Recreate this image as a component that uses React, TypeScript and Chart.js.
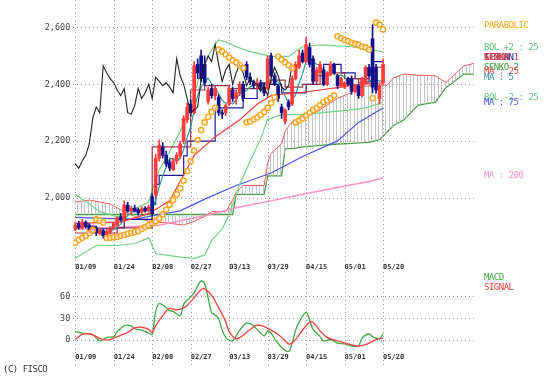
import { useEffect, useRef } from "react";
import { Chart, registerables } from "chart.js";
Chart.register(...registerables);

const dateLabels = ["01/09", "01/24", "02/08", "02/27", "03/13", "03/29", "04/15", "05/01", "05/20"];
const labelIdx = [0, 11, 22, 33, 44, 55, 66, 77, 88];
const mainTicks = [2000, 2200, 2400, 2600];
const macdTicks = [0, 30, 60];
const CHIKOU_SHIFT = 26;

const opens = [1890,1910,1895,1915,1905,1885,1895,1875,1885,1868,1880,1895,1905,1935,1925,1975,1955,1965,1958,1950,1965,1955,2005,2010,2140,2180,2150,2125,2100,2130,2150,2200,2275,2330,2300,2470,2500,2470,2340,2385,2360,2355,2300,2300,2330,2380,2350,2370,2400,2470,2425,2410,2395,2405,2390,2385,2500,2430,2395,2320,2270,2337,2330,2420,2460,2510,2480,2530,2490,2410,2440,2450,2400,2436,2470,2430,2395,2390,2420,2420,2375,2395,2360,2406,2460,2560,2460,2350,2405];
const highs = [1915,1918,1925,1920,1910,1905,1900,1895,1890,1890,1900,1915,1935,1945,1990,1985,1972,1975,1965,1970,1970,1975,2015,2155,2205,2195,2165,2135,2140,2160,2200,2290,2335,2345,2480,2490,2520,2500,2390,2400,2395,2365,2310,2330,2395,2390,2380,2410,2410,2480,2440,2415,2420,2415,2405,2500,2510,2440,2400,2330,2315,2345,2430,2480,2520,2520,2565,2545,2500,2460,2480,2460,2445,2480,2475,2435,2425,2410,2425,2430,2400,2400,2425,2465,2470,2610,2470,2400,2490];
const lows = [1885,1890,1890,1895,1880,1878,1868,1870,1858,1862,1875,1890,1900,1918,1920,1950,1945,1950,1940,1945,1950,1950,1940,2005,2130,2140,2110,2095,2095,2120,2140,2190,2265,2290,2295,2420,2410,2395,2330,2350,2345,2290,2280,2290,2325,2340,2330,2360,2340,2415,2400,2385,2385,2380,2360,2380,2425,2395,2340,2280,2260,2310,2325,2415,2455,2475,2475,2460,2400,2405,2435,2395,2395,2430,2435,2385,2390,2385,2395,2365,2370,2350,2355,2400,2425,2370,2370,2330,2400];
const closes = [1905,1895,1915,1900,1890,1895,1878,1888,1868,1882,1895,1910,1930,1922,1975,1955,1965,1955,1948,1962,1955,1968,1945,2140,2185,2150,2120,2105,2130,2150,2190,2280,2320,2300,2465,2440,2420,2405,2380,2360,2385,2300,2295,2325,2385,2350,2370,2400,2350,2425,2410,2395,2405,2390,2370,2490,2430,2400,2350,2300,2310,2320,2420,2470,2500,2480,2540,2470,2410,2450,2470,2400,2440,2470,2440,2395,2420,2405,2400,2375,2395,2360,2420,2460,2430,2390,2380,2395,2470];

const ma5 = [1900,1900,1905,1904,1901,1899,1896,1890,1884,1882,1882,1889,1897,1908,1926,1938,1949,1954,1960,1957,1957,1958,1956,1994,2039,2078,2108,2140,2138,2131,2139,2171,2214,2248,2311,2361,2389,2406,2422,2401,2390,2366,2344,2333,2338,2331,2345,2366,2371,2379,2391,2396,2397,2405,2394,2410,2417,2416,2408,2394,2358,2336,2340,2364,2404,2438,2482,2492,2480,2470,2468,2440,2434,2446,2444,2429,2433,2426,2412,2399,2399,2387,2390,2402,2413,2412,2416,2411,2413];
const ma25: [number, number][] = [[0,1911],[13,1915],[21,1945],[27,1990],[34,2150],[40,2215],[47,2275],[52,2330],[56,2360],[59,2365],[64,2370],[70,2380],[76,2390],[81,2400],[88,2405]];
const ma75: [number, number][] = [[0,1932],[17,1925],[21,1935],[30,1955],[37,1996],[46,2044],[56,2088],[65,2146],[75,2201],[81,2266],[88,2317]];
const ma200: [number, number][] = [[0,1891],[13,1898],[24,1904],[37,1938],[46,1966],[56,1990],[65,2013],[75,2037],[84,2058],[88,2071]];
const bolUp: [number, number][] = [[0,2013],[4,1979],[7,1952],[12,1935],[17,1962],[21,1986],[22,2027],[24,2099],[27,2164],[30,2235],[33,2327],[36,2447],[39,2522],[41,2556],[43,2549],[46,2532],[50,2515],[56,2498],[61,2498],[65,2532],[70,2539],[79,2532],[84,2522],[88,2515]];
const bolLow: [number, number][] = [[0,1788],[6,1833],[12,1833],[17,1840],[21,1860],[23,1805],[26,1799],[30,1792],[34,1788],[37,1799],[39,1850],[42,1891],[44,1942],[47,2048],[50,2129],[53,2208],[55,2276],[59,2293],[65,2293],[73,2303],[79,2310],[83,2317],[88,2337]];
const tenkan: [number, number][] = [[0,1900],[6,1892],[12,1895],[14,1925],[22,1978],[23,2048],[24,2080],[31,2148],[32,2200],[40,2317],[48,2350],[52,2400],[59,2370],[66,2400],[69,2430],[71,2470],[76,2440],[80,2420],[84,2410],[85,2480],[88,2480]];
const kijun: [number, number][] = [[0,1877],[12,1895],[22,2180],[33,2380],[37,2395],[44,2385],[53,2405],[56,2415],[60,2390],[65,2400],[70,2430],[73,2440],[77,2420],[81,2405],[84,2445],[86,2460],[88,2460]];
const cloudIdx = [0,4,10,14,17,21,27,31,34,37,39,43,45,46,48,54,55,56,59,60,62,65,69,75,79,81,84,87,89,91,94,98,103,106,108,111,114];
const senkou1 = [1986,1993,1979,1952,1935,1918,1911,1905,1918,1935,1952,1952,1993,2020,2044,2044,2123,2157,2191,2235,2269,2283,2303,2351,2371,2389,2395,2395,2395,2423,2436,2432,2430,2406,2430,2464,2474];
const senkou2 = [1942,1942,1942,1942,1942,1942,1942,1942,1942,1942,1942,1942,1942,2013,2013,2013,2078,2078,2078,2174,2174,2180,2184,2190,2192,2194,2196,2205,2230,2255,2275,2327,2337,2389,2406,2436,2436];
const sar = [1843,1853,1860,1867,1877,1887,1925,1921,1914,1860,1860,1862,1863,1867,1870,1874,1877,1880,1884,1891,1898,1904,1911,1918,1928,1942,1959,1976,1993,2013,2034,2061,2095,2129,2167,2204,2239,2266,2286,2303,2317,2522,2515,2505,2494,2484,2477,2467,2457,2266,2269,2276,2283,2293,2303,2317,2334,2354,2498,2487,2477,2467,2457,2266,2273,2280,2290,2300,2310,2317,2327,2337,2344,2351,2361,2569,2562,2556,2552,2546,2542,2539,2532,2529,2522,2351,2617,2610,2593];
const macd: [number, number][] = [[0,12],[1,11],[3,9],[5,8],[7,-1],[8,1],[9,4],[11,5],[12,12],[14,20],[16,20],[17,16],[19,14],[21,10],[22,8],[23,40],[24,51],[25,49],[27,41],[28,40],[30,34],[31,50],[32,55],[34,66],[35,75],[36,82],[37,78],[38,58],[39,38],[40,35],[41,30],[42,14],[43,4],[44,0],[45,-1],[47,14],[49,24],[50,23],[51,20],[52,15],[54,6],[55,13],[56,10],[57,2],[59,-10],[61,-16],[62,-4],[63,14],[64,25],[66,39],[67,28],[68,15],[70,5],[71,-1],[73,1],[75,-4],[77,-5],[79,-8],[81,-8],[82,3],[84,9],[85,5],[87,2],[88,9]];
const signal: [number, number][] = [[0,1],[2,8],[4,9],[6,5],[8,1],[10,1],[12,5],[15,11],[17,17],[19,18],[21,15],[22,11],[23,20],[25,34],[27,44],[29,42],[31,45],[32,48],[34,59],[36,70],[37,71],[39,62],[41,45],[43,26],[44,12],[46,2],[48,7],[50,15],[52,21],[54,19],[56,14],[58,8],[59,4],[61,-5],[62,-4],[63,1],[65,14],[67,25],[68,25],[70,13],[72,4],[75,-1],[78,-5],[81,-8],[84,-4],[86,1],[88,3]];

const X_MIN = -0.571;
const X_MAX = 114.29;
const FONT = "DejaVu Sans Mono";

const pts = (arr: [number, number][]) => arr.map(([x, y]) => ({ x, y }));

const vGrid = {
  id: "vgrid",
  beforeDatasetsDraw(chart: any) {
    const { ctx } = chart;
    const xs = chart.scales.x;
    ctx.save();
    ctx.strokeStyle = "#9a9a9a";
    ctx.lineWidth = 1;
    ctx.setLineDash([1, 3]);
    for (const v of labelIdx) {
      const px = Math.round(xs.getPixelForValue(v)) + 0.5;
      ctx.beginPath();
      ctx.moveTo(px, 0);
      ctx.lineTo(px, chart.height);
      ctx.stroke();
    }
    ctx.restore();
  },
};

const xAxis = () => ({
  type: "linear",
  min: X_MIN,
  max: X_MAX,
  offset: false,
  grid: { display: false, drawTicks: false },
  border: { display: false },
  afterBuildTicks: (s: any) => {
    s.ticks = labelIdx.map((v) => ({ value: v }));
  },
  afterFit: (s: any) => {
    s.height = 14;
  },
  ticks: {
    autoSkip: false,
    maxRotation: 0,
    minRotation: 0,
    align: "start",
    padding: 1,
    color: "#333",
    font: { family: FONT, size: 7, weight: "bold" },
    callback: (v: number) => {
      const k = labelIdx.indexOf(v);
      return k >= 0 ? dateLabels[k] : "";
    },
  },
});

const yAxis = (min: number, max: number, ticks: number[], fmt: (v: number) => string) => ({
  min,
  max,
  grid: { color: "#9a9a9a", drawTicks: false, lineWidth: 1 },
  border: { display: false, dash: [1, 3] },
  afterBuildTicks: (s: any) => {
    s.ticks = ticks.map((v) => ({ value: v }));
  },
  afterFit: (s: any) => {
    s.width = 73.25;
  },
  ticks: { padding: 3, color: "#444", font: { family: FONT, size: 8.5 }, callback: (v: number) => fmt(v) },
});

const line = (data: any[], color: string, width: number, order: number, extra: any = {}) => ({
  type: "line",
  data,
  borderColor: color,
  borderWidth: width,
  pointRadius: 0,
  fill: false,
  tension: 0,
  order,
  ...extra,
});

const RED = "#ff3b3b";
const NAVY = "#10108a";

export default function App() {
  const mainRef = useRef<HTMLCanvasElement>(null);
  const macdRef = useRef<HTMLCanvasElement>(null);

  useEffect(() => {
    const pc = document.createElement("canvas");
    pc.width = 7;
    pc.height = 2;
    const pctx = pc.getContext("2d")!;
    pctx.fillStyle = "#c4c4c4";
    pctx.fillRect(0, 0, 1, 2);
    pctx.fillRect(4, 0, 1, 2);
    const hatch = mainRef.current!.getContext("2d")!.createPattern(pc, "repeat");

    const candleColors = closes.map((c, i) => (c >= opens[i] ? RED : NAVY));

    const main = new Chart(mainRef.current!, {
      type: "bar",
      data: {
        datasets: [
          line(cloudIdx.map((x, i) => ({ x, y: senkou1[i] })), "#ff5a5a", 1, 20, { fill: "+1", backgroundColor: hatch }),
          line(cloudIdx.map((x, i) => ({ x, y: senkou2[i] })), "#3e9e3e", 1.3, 20),
          line(pts(ma200), "#ff8fc8", 1.5, 15),
          line(pts(ma75), "#4b55ee", 1.2, 15),
          line(pts(bolUp), "#6fd487", 1.2, 14),
          line(pts(bolLow), "#6fd487", 1.2, 14),
          line(pts(kijun), "#993344", 1.2, 12, { stepped: true }),
          line(pts(tenkan), "#1a1a99", 1.2, 12, { stepped: true }),
          line(pts(ma25), "#ff3b3b", 1.2, 11),
          line(ma5.map((y, x) => ({ x, y })), "#2f9a9a", 1.2, 11),
          {
            type: "bar",
            data: highs.map((h, i) => ({ x: i, y: [lows[i], h] })),
            backgroundColor: candleColors,
            barThickness: 1,
            grouped: false,
            borderWidth: 0,
            order: 8,
          },
          {
            type: "bar",
            data: opens.map((o, i) => ({ x: i, y: [o, closes[i]] })),
            backgroundColor: candleColors,
            barThickness: 3,
            grouped: false,
            borderWidth: 0,
            minBarLength: 1,
            order: 7,
          },
          line(closes.slice(CHIKOU_SHIFT).map((y, k) => ({ x: k, y })), "#222", 1.1, 5),
          {
            type: "line",
            data: sar.map((y, x) => ({ x, y })),
            showLine: false,
            pointRadius: 2.6,
            pointStyle: "circle",
            pointBorderColor: "#ffa31a",
            pointBackgroundColor: "rgba(255,255,255,0.6)",
            pointBorderWidth: 1.4,
            order: 1,
          },
        ] as any,
      },
      options: {
        responsive: false,
        animation: false,
        devicePixelRatio: 1,
        layout: { padding: { left: 0, right: 77, top: 0, bottom: 0 } },
        plugins: { legend: { display: false }, tooltip: { enabled: false } },
        scales: {
          x: xAxis() as any,
          y: yAxis(1775, 2668, mainTicks, (v) => v.toLocaleString("en-US")) as any,
        },
      },
      plugins: [vGrid],
    });

    const macdChart = new Chart(macdRef.current!, {
      type: "line",
      data: {
        datasets: [
          line(pts(macd), "#3fa83f", 1.3, 2, { tension: 0.3 }),
          line(pts(signal), "#ff4040", 1.3, 1, { tension: 0.3 }),
        ] as any,
      },
      options: {
        responsive: false,
        animation: false,
        devicePixelRatio: 1,
        layout: { padding: { left: 0, right: 77, top: 0, bottom: 0 } },
        plugins: { legend: { display: false }, tooltip: { enabled: false } },
        scales: {
          x: xAxis() as any,
          y: yAxis(-16.25, 88.75, macdTicks, (v) => String(v)) as any,
        },
      },
      plugins: [vGrid],
    });

    return () => {
      main.destroy();
      macdChart.destroy();
    };
  }, []);

  const legend = (text: string, top: number, color: string, left = 484) => (
    <div
      key={text + top}
      style={{
        position: "absolute",
        left,
        top,
        color,
        fontFamily: FONT,
        fontSize: 9,
        lineHeight: "9px",
        letterSpacing: "-0.5px",
        whiteSpace: "pre",
      }}
    >
      {text}
    </div>
  );

  return (
    <div style={{ position: "absolute", left: 0, top: 0, width: 552, height: 382, background: "#fff", overflow: "hidden" }}>
      <canvas ref={mainRef} width={552} height={276} style={{ position: "absolute", left: 0, top: 0 }} />
      <canvas ref={macdRef} width={552} height={98} style={{ position: "absolute", left: 0, top: 268 }} />
      {legend("PARABOLIC", 21, "#ffa31a")}
      {legend("BOL +2 : 25", 43, "#5cc878")}
      {legend("TENKAN", 53, "#1a1a99")}
      {legend("KIJUN", 53, "#993344")}
      {legend("SENKO 1", 53, "#ff4040")}
      {legend("SENKO 2", 63, "#3e9e3e")}
      {legend("MA : 25", 67, "#ff4040")}
      {legend("MA : 5", 73, "#2f9a9a")}
      {legend("BOL -2 : 25", 93, "#5cc878")}
      {legend("MA : 75", 98, "#4b55ee")}
      {legend("MA : 200", 171, "#ff8fc8")}
      {legend("MACD", 273, "#3fa83f")}
      {legend("SIGNAL", 283, "#ff4040")}
      {legend("(C) FISCO", 365, "#333", 3)}
    </div>
  );
}
